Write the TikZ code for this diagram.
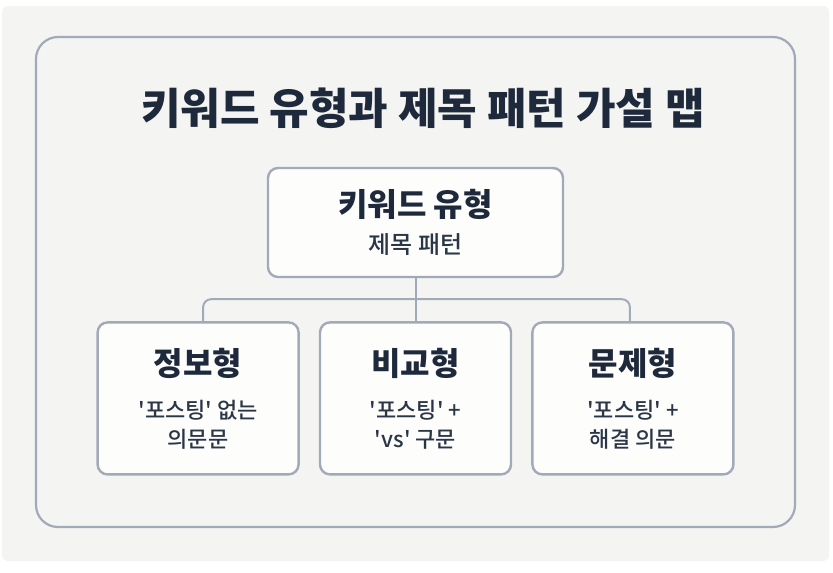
\documentclass[tikz,border=0pt]{standalone}
\usepackage{fontspec}
\setmainfont{Noto Sans CJK KR}[Ligatures=TeXOff]
\newfontfamily\krmedium{Noto Sans CJK KR Medium}[Ligatures=TeXOff]
\usetikzlibrary{positioning}

\definecolor{pagecol}{HTML}{F4F4F2}
\definecolor{linecol}{HTML}{A2A9B8}
\definecolor{inkcol}{HTML}{1E293B}
\definecolor{subcol}{HTML}{2A3546}
\definecolor{boxfill}{HTML}{FDFDFC}

\begin{document}
\begin{tikzpicture}[x=1pt, y=-1pt,
  outerframe/.style={draw=linecol, line width=2.2pt, rounded corners=22pt},
  headline/.style={text=inkcol, font=\fontsize{43}{47}\selectfont\bfseries},
  rootbox/.style={draw=linecol, fill=boxfill, line width=2.4pt, rounded corners=10pt,
                  minimum width=295pt, minimum height=109pt, align=center,
                  text=subcol, font=\krmedium\fontsize{24}{28}\selectfont},
  typebox/.style={draw=linecol, fill=boxfill, line width=2.4pt, rounded corners=10pt,
                  minimum width=201pt, minimum height=152pt, align=center,
                  text=subcol, font=\krmedium\fontsize{22}{29}\selectfont},
  conn/.style={draw=linecol, line width=2pt, rounded corners=8pt},
]

% Page background
\fill[white] (0,0) rectangle (833,573);
\useasboundingbox (0,0) rectangle (833,573);
\fill[pagecol, rounded corners=6pt] (2,6) rectangle (829,561);
\draw[outerframe] (36,37) rectangle (795,527);

% Title
\node[headline] (title) at (423,108) {키워드 유형과 제목 패턴 가설 맵};

% Root
\node[rootbox] (m1) at (415.5,222.5)
  {{\color{inkcol}\rmfamily\fontsize{32}{32}\selectfont\bfseries 키워드 유형}\\[9pt] 제목 패턴};

% Keyword types
\node[typebox, minimum width=191pt, below=43pt of m1] (m3)
  {{\color{inkcol}\rmfamily\fontsize{32}{32}\selectfont\bfseries 비교형}\\[14pt] '포스팅' +\\ 'vs' 구문};
\node[typebox, left=19pt of m3] (m2)
  {{\color{inkcol}\rmfamily\fontsize{32}{32}\selectfont\bfseries 정보형}\\[14pt] '포스팅' 없는\\ 의문문};
\node[typebox, right=19pt of m3] (m4)
  {{\color{inkcol}\rmfamily\fontsize{32}{32}\selectfont\bfseries 문제형}\\[14pt] '포스팅' +\\ 해결 의문};

% Connectors
\coordinate[below=21pt of m1.south] (bus);
\draw[conn] (m1.south) -- (bus);
\draw[conn] ([xshift=5pt]m2.north) |- (bus) -| ([xshift=-3pt]m4.north);
\draw[conn] (bus) -- (m3.north);

\end{tikzpicture}
\end{document}
